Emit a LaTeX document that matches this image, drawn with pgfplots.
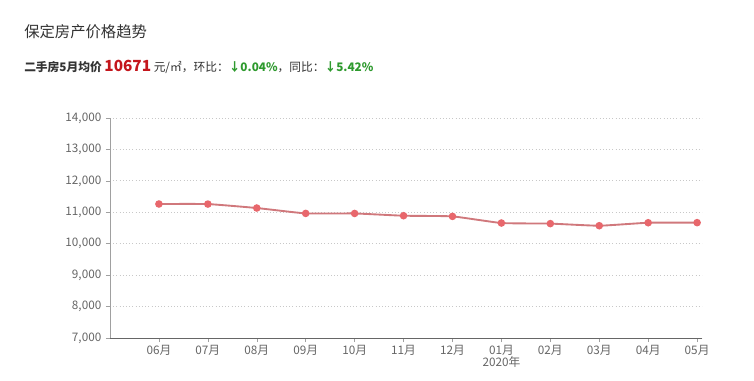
\documentclass[border=0pt]{standalone}
\usepackage{fontspec}
\setmainfont{Noto Sans CJK SC}
\usepackage{pgfplots}
\pgfplotsset{compat=1.18}
\definecolor{txt}{HTML}{333333}
\definecolor{tick}{HTML}{666666}
\definecolor{gridc}{HTML}{C8C8C8}
\definecolor{linec}{HTML}{D0787C}
\definecolor{markc}{HTML}{E8676C}
\definecolor{redv}{HTML}{C4161C}
\definecolor{greenv}{HTML}{2E9A2E}
\begin{document}
\begin{tikzpicture}[x=1pt,y=1pt]
\path[fill=white] (0,0) rectangle (565.5,-285);
\node[anchor=west,text=txt,font=\fontsize{11.5}{13}\selectfont,inner sep=0pt] at (18,-23.5) {保定房产价格趋势};
\node[anchor=west,text=txt,font=\fontsize{8.8}{10}\selectfont,inner sep=0pt] at (18,-50) {\textbf{二手房5月均价} \textcolor{redv}{\fontsize{11.5}{13}\selectfont\textbf{10671}} 元/㎡，环比：\textcolor{greenv}{\textbf{↓0.04\%}}，同比：\textcolor{greenv}{\textbf{↓5.42\%}}};
\begin{axis}[
  at={(82.5pt,-253.5pt)}, anchor=south west,
  scale only axis, width=444pt, height=165pt,
  xmin=-1, xmax=11.1, ymin=7000, ymax=14000,
  ytick={7000,8000,...,14000},
  xtick={0,...,11},
  xticklabels={06月,07月,08月,09月,10月,11月,12月,01月,02月,03月,04月,05月},
  /pgf/number format/assume math mode=true,
  yticklabel style={font=\fontsize{8.8}{10}\selectfont, text=tick},
  xticklabel style={font=\fontsize{8.8}{10}\selectfont, text=tick, yshift=1pt},
  scaled y ticks=false,
  y tick label style={/pgf/number format/.cd, 1000 sep={,}},
  ymajorgrids, major grid style={gridc, dotted, line width=0.6pt},
  axis x line*=bottom, axis y line*=left,
  x axis line style={tick, line width=0.6pt, -},
  y axis line style={gridc!80!black, line width=0.4pt, -},
  tick style={gridc!80!black, line width=0.4pt},
  tick align=outside, major tick length=3pt,
  clip=false,
]
\addplot[linec, line width=1.4pt, smooth, tension=0.25, mark=*, mark size=2.1pt,
  mark options={fill=markc, draw=markc}] coordinates {
 (0,11264) (1,11262) (2,11136) (3,10965) (4,10963) (5,10891)
 (6,10870) (7,10659) (8,10640) (9,10573) (10,10668) (11,10671)};
\node[text=tick, font=\fontsize{8.8}{10}\selectfont] at (axis cs:7,7000) [yshift=-18pt] {2020年};
\end{axis}
\end{tikzpicture}
\end{document}
